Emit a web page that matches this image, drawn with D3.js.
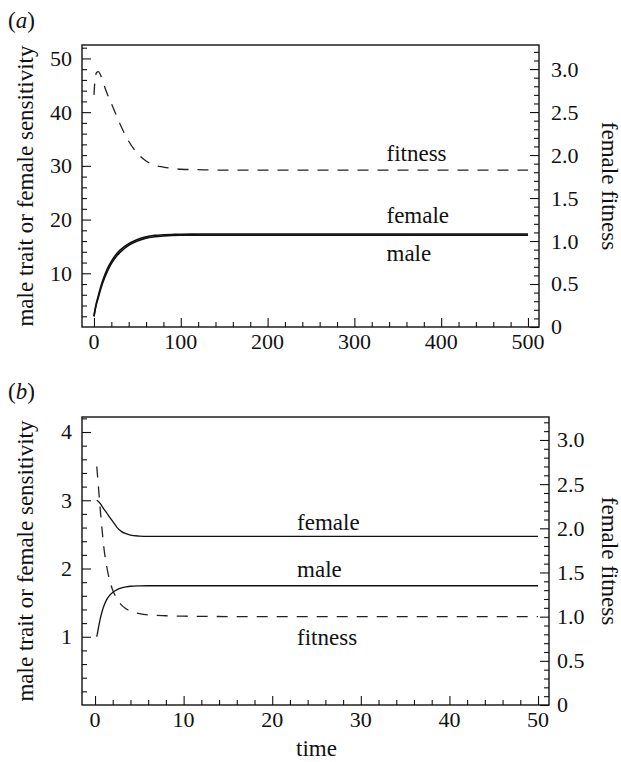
<!DOCTYPE html>
<html>
<head>
<meta charset="utf-8">
<script src="https://cdn.jsdelivr.net/npm/d3@7"></script>
</head>
<body style="margin:0">
<svg id="chart" width="621" height="762"></svg>
<script>
// ---------- Panel (a) data ----------
const timeA = [0, 1, 3, 5, 8, 10, 15, 20, 25, 30, 40, 50, 60, 70, 80, 90, 100, 120, 150, 200, 300, 400, 500];
const maleA = [2.0, 2.9, 4.4, 5.5, 7.2, 8.2, 10.2, 11.8, 13.0, 13.9, 15.2, 16.0, 16.55, 16.8, 16.95, 17.05, 17.1, 17.1, 17.1, 17.1, 17.1, 17.1, 17.1];
const femaleA = [2.0, 3.0, 4.6, 5.8, 7.6, 8.6, 10.7, 12.2, 13.4, 14.3, 15.5, 16.3, 16.8, 17.05, 17.15, 17.22, 17.28, 17.3, 17.3, 17.3, 17.3, 17.3, 17.3];
const fitnessA = [2.70, 2.85, 2.96, 2.97, 2.92, 2.86, 2.72, 2.60, 2.48, 2.36, 2.16, 2.02, 1.93, 1.88, 1.86, 1.845, 1.835, 1.83, 1.825, 1.825, 1.825, 1.825, 1.825];

// ---------- Panel (b) data ----------
const timeB = [0.2, 0.4, 0.6, 0.8, 1, 1.3, 1.6, 2, 2.5, 3, 3.5, 4, 5, 6, 8, 10, 20, 30, 40, 50];
const maleB = [1.0, 1.14, 1.27, 1.37, 1.45, 1.54, 1.60, 1.65, 1.69, 1.715, 1.73, 1.74, 1.745, 1.747, 1.747, 1.747, 1.747, 1.747, 1.747, 1.747];
const femaleB = [3.0, 2.98, 2.95, 2.91, 2.87, 2.82, 2.76, 2.69, 2.60, 2.54, 2.51, 2.49, 2.475, 2.47, 2.47, 2.47, 2.47, 2.47, 2.47, 2.47];
const fitnessB = [2.70, 2.45, 2.20, 1.98, 1.78, 1.58, 1.43, 1.30, 1.20, 1.13, 1.09, 1.06, 1.035, 1.02, 1.01, 1.005, 1.0, 1.0, 1.0, 1.0];

// ---------- Tick labels ----------
const xTicksA = [0, 100, 200, 300, 400, 500];
const yLeftTicksA = [10, 20, 30, 40, 50];
const xTicksB = [0, 10, 20, 30, 40, 50];
const yLeftTicksB = [1, 2, 3, 4];
const yRightTicks = [0, 0.5, 1.0, 1.5, 2.0, 2.5, 3.0];
const yRightLabels = ["0", "0.5", "1.0", "1.5", "2.0", "2.5", "3.0"];

const panelLabels = ["a", "b"];
const leftTitle = "male trait or female sensitivity";
const rightTitle = "female fitness";
const xTitle = "time";

const svg = d3.select("#chart");
svg.append("rect").attr("width", 621).attr("height", 762).attr("fill", "#fff");

const TICK_FS = 22, LABEL_FS = 23, BASE_FS = 26;

function range(a, b, step) {
  const out = [];
  for (let v = a; v <= b + 1e-9; v += step) out.push(+v.toFixed(6));
  return out;
}

// text drawn at a base size and scaled to the wanted size
function addText(str, size, x, y, opt = {}) {
  const k = size / BASE_FS;
  const rot = opt.rotate ? ` rotate(${opt.rotate})` : "";
  const t = svg.append("text")
    .attr("x", 0).attr("y", 0)
    .attr("font-size", BASE_FS)
    .style("font-family", '"Liberation Serif"')
    .attr("fill", "#111")
    .attr("transform", `translate(${x},${y})${rot} scale(${k})`);
  if (opt.anchor) t.attr("text-anchor", opt.anchor);
  if (opt.dy) t.attr("dy", opt.dy);
  if (str !== null) t.text(str);
  return t;
}

function drawPanel(cfg) {
  const g = svg.append("g");
  const { box } = cfg;
  const x = d3.scaleLinear().domain(cfg.xDomain).range([box.left, box.right]);
  const yL = d3.scaleLinear().domain(cfg.yLDomain).range([box.bottom, box.top]);
  const yR = d3.scaleLinear().domain(cfg.yRDomain).range([box.bottom, box.top]);

  const styleAxis = sel => {
    sel.select(".domain").remove();
    sel.selectAll("text").remove();
    sel.selectAll("line").attr("stroke", "#111").attr("stroke-width", 1.1);
  };

  g.append("g").attr("transform", `translate(0,${box.bottom})`)
    .call(d3.axisBottom(x).tickValues(cfg.xMinor).tickSize(-5)).call(styleAxis);
  g.append("g").attr("transform", `translate(0,${box.bottom})`)
    .call(d3.axisBottom(x).tickValues(cfg.xMajor).tickSize(-9)).call(styleAxis);
  g.append("g").attr("transform", `translate(${box.left},0)`)
    .call(d3.axisLeft(yL).tickValues(cfg.yLMinor).tickSize(-5)).call(styleAxis);
  g.append("g").attr("transform", `translate(${box.left},0)`)
    .call(d3.axisLeft(yL).tickValues(cfg.yLMajor).tickSize(-9)).call(styleAxis);
  g.append("g").attr("transform", `translate(${box.right},0)`)
    .call(d3.axisRight(yR).tickValues(cfg.yRMinor).tickSize(-5)).call(styleAxis);
  g.append("g").attr("transform", `translate(${box.right},0)`)
    .call(d3.axisRight(yR).tickValues(yRightTicks).tickSize(-9)).call(styleAxis);

  cfg.xMajor.forEach(v => addText(String(v), TICK_FS, x(v), box.bottom + 22, { anchor: "middle" }));
  cfg.yLMajor.forEach(v => addText(String(v), TICK_FS, box.left - 10, yL(v), { anchor: "end", dy: "0.34em" }));
  yRightTicks.forEach((v, i) => addText(yRightLabels[i], TICK_FS, box.right + cfg.rightPad, yR(v), { dy: "0.34em" }));

  g.append("rect")
    .attr("x", box.left).attr("y", box.top)
    .attr("width", box.right - box.left).attr("height", box.bottom - box.top)
    .attr("fill", "none").attr("stroke", "#111").attr("stroke-width", 1.4);

  const mk = (ys, yScale) => d3.line()
    .x((d, i) => x(cfg.time[i]))
    .y(d => yScale(d))
    .curve(d3.curveMonotoneX)(ys);

  g.append("path").attr("d", mk(cfg.male, yL))
    .attr("fill", "none").attr("stroke", "#111").attr("stroke-width", cfg.solidWidth);
  g.append("path").attr("d", mk(cfg.female, yL))
    .attr("fill", "none").attr("stroke", "#111").attr("stroke-width", cfg.solidWidth);
  g.append("path").attr("d", mk(cfg.fitness, yR))
    .attr("fill", "none").attr("stroke", "#222").attr("stroke-width", 1.3)
    .attr("stroke-dasharray", "11,9");

  const last = a => a[a.length - 1];
  cfg.labels.forEach(l => {
    const yy = l.scale === "L" ? yL(last(cfg[l.series])) : yR(last(cfg[l.series]));
    addText(l.text, LABEL_FS, x(l.t), yy + l.dy);
  });

  const pl = addText(null, LABEL_FS, 8, cfg.panelY);
  pl.append("tspan").text("(");
  pl.append("tspan").attr("font-style", "italic").text(cfg.panel);
  pl.append("tspan").text(")");

  const cy = (box.top + box.bottom) / 2;
  addText(leftTitle, LABEL_FS, 33, cy, { rotate: -90, anchor: "middle" });
  addText(rightTitle, LABEL_FS, 602, cy, { rotate: 90, anchor: "middle" });

  if (cfg.showTime) {
    addText(xTitle, LABEL_FS, x(25), 756, { anchor: "middle" });
  }
}

drawPanel({
  panel: panelLabels[0], panelY: 28,
  box: { left: 82, right: 539, top: 45, bottom: 327 },
  xDomain: [-13.8, 512.7], yLDomain: [0, 52.5], yRDomain: [0, 3.28],
  xMajor: xTicksA, xMinor: range(20, 480, 20).filter(v => v % 100 !== 0),
  yLMajor: yLeftTicksA, yLMinor: range(2, 52, 2).filter(v => v % 10 !== 0),
  yRMinor: range(0.1, 3.2, 0.1).filter(v => Math.abs(v * 2 - Math.round(v * 2)) > 1e-6),
  rightPad: 12,
  time: timeA, male: maleA, female: femaleA, fitness: fitnessA,
  solidWidth: 1.6,
  labels: [
    { text: "fitness", series: "fitness", scale: "R", t: 337, dy: -9 },
    { text: "female", series: "female", scale: "L", t: 337, dy: -11 },
    { text: "male", series: "male", scale: "L", t: 337, dy: 26 }
  ],
  showTime: false
});

drawPanel({
  panel: panelLabels[1], panelY: 399,
  box: { left: 82, right: 549, top: 417, bottom: 705 },
  xDomain: [-1.47, 51.24], yLDomain: [0, 4.22], yRDomain: [0, 3.26],
  xMajor: xTicksB, xMinor: range(2, 48, 2).filter(v => v % 10 !== 0),
  yLMajor: yLeftTicksB, yLMinor: range(0.2, 4.2, 0.2).filter(v => Math.abs(v - Math.round(v)) > 1e-6),
  yRMinor: range(0.1, 3.2, 0.1).filter(v => Math.abs(v * 2 - Math.round(v * 2)) > 1e-6),
  rightPad: 8,
  time: timeB, male: maleB, female: femaleB, fitness: fitnessB,
  solidWidth: 1.3,
  labels: [
    { text: "female", series: "female", scale: "L", t: 22.8, dy: -6 },
    { text: "male", series: "male", scale: "L", t: 22.8, dy: -9 },
    { text: "fitness", series: "fitness", scale: "R", t: 22.8, dy: 28 }
  ],
  showTime: true
});
</script>
</body>
</html>
